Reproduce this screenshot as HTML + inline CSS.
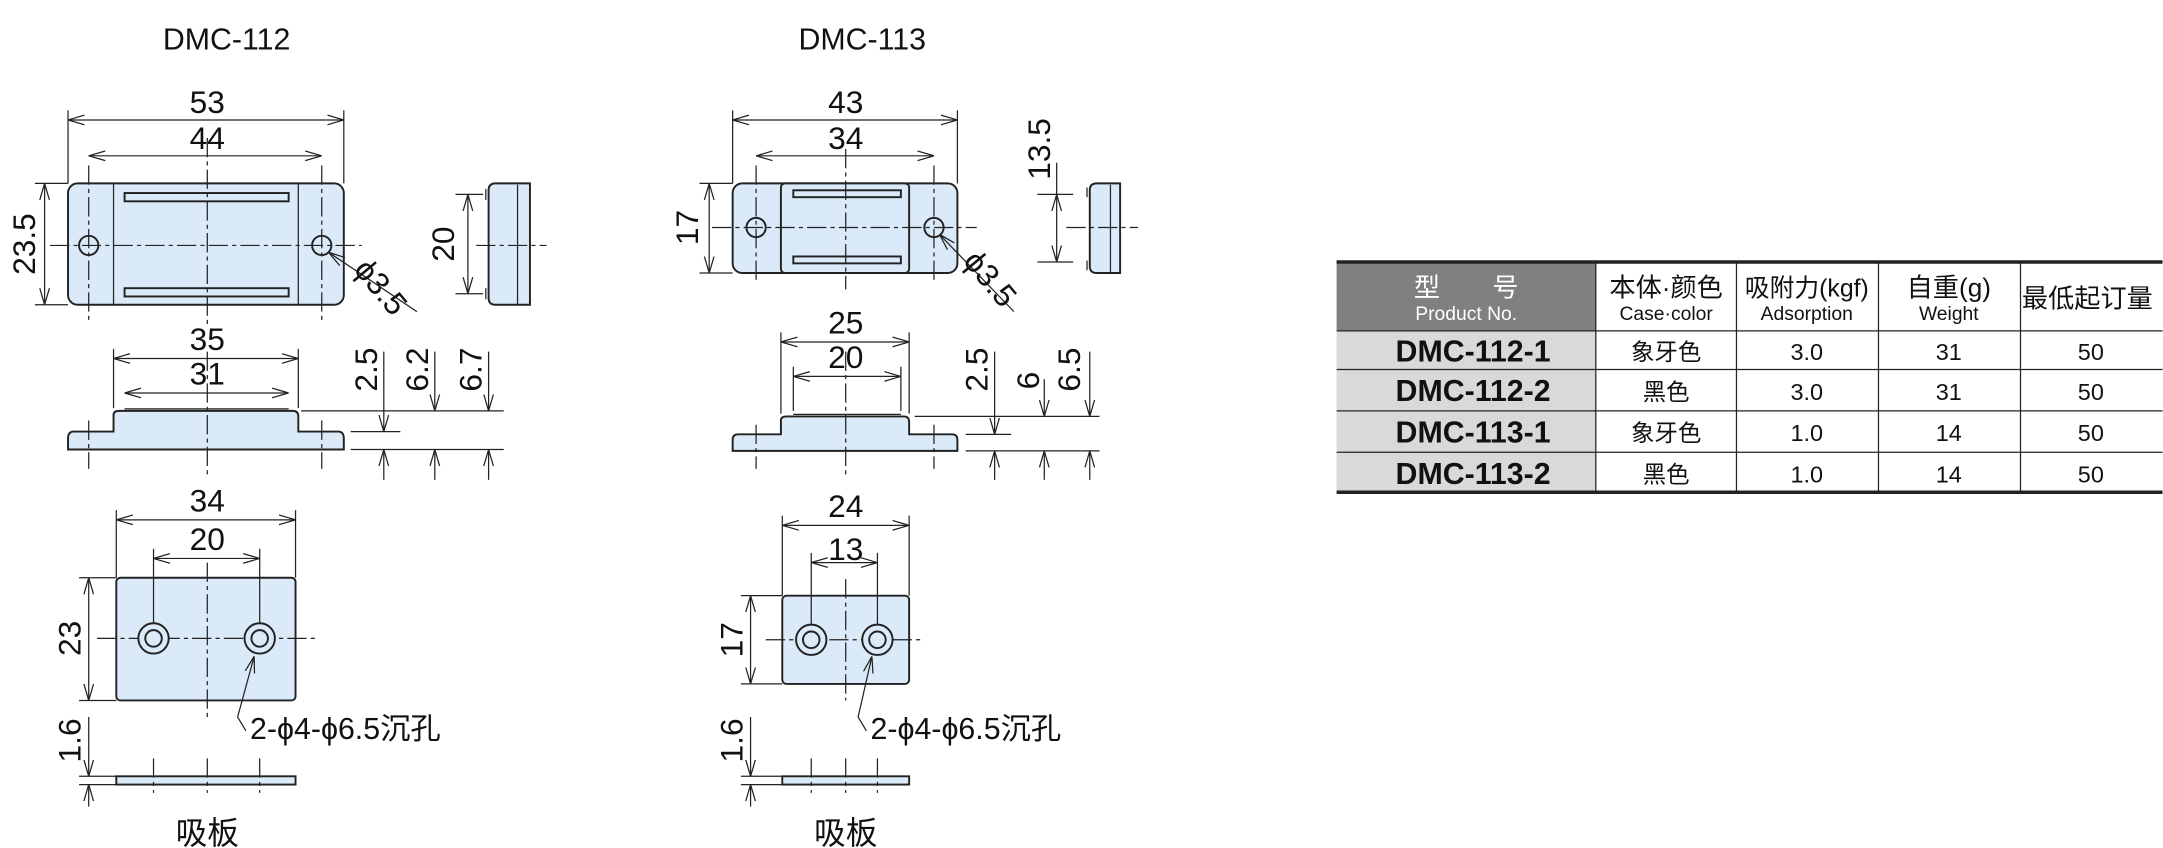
<!DOCTYPE html>
<html><head><meta charset="utf-8"><style>
html,body{margin:0;padding:0;background:#fff;}
svg{display:block;}
text{font-family:"Liberation Sans","Noto Sans CJK SC",sans-serif;fill:#111;}
.o{fill:#dbeaf8;stroke:#222;stroke-width:1.4;}
.l{stroke:#222;stroke-width:0.9;fill:none;}
.c{stroke:#222;stroke-width:0.9;fill:none;stroke-dasharray:14 3 3 3;}
.d{stroke:#222;stroke-width:0.9;fill:none;marker-start:url(#a);marker-end:url(#a);}
.d1{stroke:#222;stroke-width:0.9;fill:none;marker-end:url(#a);}
.n{font-size:23px;text-anchor:middle;}
</style></head><body>
<svg width="2163" height="848" viewBox="0 0 1568 615" xmlns="http://www.w3.org/2000/svg">
<defs><marker id="a" viewBox="0 0 12 8" refX="12" refY="4" markerWidth="12" markerHeight="8" markerUnits="userSpaceOnUse" orient="auto-start-reverse"><path d="M0,0.5 L12,4 L0,7.5" fill="none" stroke="#222" stroke-width="0.9"/></marker></defs>

<!-- ===== DMC-112 ===== -->
<text x="164" y="36" font-size="22" text-anchor="middle">DMC-112</text>
<rect class="o" x="49" y="133" width="200" height="88" rx="7"/>
<line class="l" x1="82" y1="133" x2="82" y2="221"/><line class="l" x1="216" y1="133" x2="216" y2="221"/>
<rect class="o" x="90" y="140" width="119" height="6" stroke-width="1"/>
<rect class="o" x="90" y="209" width="119" height="6" stroke-width="1"/>
<circle class="o" cx="64" cy="178" r="7"/><circle class="o" cx="233" cy="178" r="7"/>
<line class="c" x1="36" y1="178" x2="262" y2="178"/>
<line class="c" x1="150" y1="100" x2="150" y2="237"/>
<line class="c" x1="64" y1="120" x2="64" y2="232"/><line class="c" x1="233" y1="120" x2="233" y2="232"/>
<line class="l" x1="49" y1="80" x2="49" y2="133"/><line class="l" x1="249" y1="80" x2="249" y2="133"/>
<line class="d" x1="49" y1="87" x2="249" y2="87"/><text class="n" x="150" y="82">53</text>
<line class="d" x1="64" y1="113" x2="233" y2="113"/><text class="n" x="150" y="108">44</text>
<line class="l" x1="25" y1="133" x2="49" y2="133"/><line class="l" x1="25" y1="221" x2="49" y2="221"/>
<line class="d" x1="32" y1="133" x2="32" y2="221"/><text class="n" transform="rotate(-90 17 177)" x="17" y="185">23.5</text>
<line class="l" x1="238" y1="183" x2="302" y2="226" style="marker-start:url(#a)"/>
<text class="n" transform="rotate(50 276 208)" x="276" y="216">ϕ3.5</text>
<path class="o" d="M359,133 H384 V221 H359 Q354,221 354,216 V138 Q354,133 359,133 Z"/>
<line class="l" x1="375" y1="134" x2="375" y2="221"/>
<line class="l" x1="352" y1="137" x2="352" y2="145"/><line class="l" x1="352" y1="209" x2="352" y2="217"/>
<line class="c" x1="345" y1="178" x2="396" y2="178"/>
<line class="l" x1="330" y1="141" x2="350" y2="141"/><line class="l" x1="330" y1="213" x2="350" y2="213"/>
<line class="d" x1="339" y1="141" x2="339" y2="213"/><text class="n" transform="rotate(-90 321 177)" x="321" y="185">20</text>
<path class="o" d="M53,313 H82 V301 Q82,298 86,298 H212 Q216,298 216,302 V313 H245 Q249,313 249,318 V326 H49 V318 Q49,313 53,313 Z"/>
<line class="l" x1="90" y1="296.5" x2="209" y2="296.5" stroke-width="1.4"/>
<line class="c" x1="150" y1="255" x2="150" y2="345"/>
<line class="c" x1="64" y1="305" x2="64" y2="340"/><line class="c" x1="233" y1="305" x2="233" y2="340"/>
<line class="l" x1="82" y1="253" x2="82" y2="296"/><line class="l" x1="216" y1="253" x2="216" y2="296"/>
<line class="d" x1="82" y1="260" x2="216" y2="260"/><text class="n" x="150" y="254">35</text>
<line class="d" x1="90" y1="285" x2="209" y2="285"/><text class="n" x="150" y="279">31</text>
<line class="l" x1="218" y1="298" x2="365" y2="298"/>
<line class="l" x1="254" y1="313" x2="290" y2="313"/>
<line class="l" x1="254" y1="326" x2="365" y2="326"/>
<line class="d1" x1="278" y1="255" x2="278" y2="313"/><line class="d1" x1="278" y1="348" x2="278" y2="326"/>
<line class="d1" x1="315" y1="255" x2="315" y2="298"/><line class="d1" x1="315" y1="348" x2="315" y2="326"/>
<line class="d1" x1="354" y1="255" x2="354" y2="298"/><line class="d1" x1="354" y1="348" x2="354" y2="326"/>
<text class="n" transform="rotate(-90 265 268)" x="265" y="276">2.5</text>
<text class="n" transform="rotate(-90 302 268)" x="302" y="276">6.2</text>
<text class="n" transform="rotate(-90 341 268)" x="341" y="276">6.7</text>
<rect class="o" x="84" y="419" width="130" height="89" rx="3"/>
<line class="c" x1="70" y1="463" x2="228" y2="463"/><line class="c" x1="150" y1="408" x2="150" y2="520"/>
<circle class="o" cx="111" cy="463" r="11"/><circle class="o" cx="111" cy="463" r="6"/>
<circle class="o" cx="188" cy="463" r="11"/><circle class="o" cx="188" cy="463" r="6"/>
<line class="l" x1="84" y1="370" x2="84" y2="419"/><line class="l" x1="214" y1="370" x2="214" y2="419"/>
<line class="d" x1="84" y1="377" x2="214" y2="377"/><text class="n" x="150" y="371">34</text>
<line class="l" x1="111" y1="398" x2="111" y2="452"/><line class="l" x1="188" y1="398" x2="188" y2="452"/>
<line class="d" x1="111" y1="405" x2="188" y2="405"/><text class="n" x="150" y="399">20</text>
<line class="l" x1="57" y1="419" x2="84" y2="419"/><line class="l" x1="57" y1="508" x2="84" y2="508"/>
<line class="d" x1="64" y1="419" x2="64" y2="508"/><text class="n" transform="rotate(-90 50 463)" x="50" y="471">23</text>
<polyline class="l" points="178,530 172,520 184,476" style="marker-end:url(#a)"/>
<text x="181" y="536" font-size="22">2-ϕ4-ϕ6.5沉孔</text>
<rect class="o" x="84" y="563" width="130" height="6" stroke-width="1"/>
<line class="c" x1="111" y1="550" x2="111" y2="575"/><line class="c" x1="150" y1="550" x2="150" y2="575"/><line class="c" x1="188" y1="550" x2="188" y2="575"/>
<line class="l" x1="57" y1="563" x2="84" y2="563"/><line class="l" x1="57" y1="569" x2="84" y2="569"/>
<line class="d1" x1="64" y1="520" x2="64" y2="563"/><line class="d1" x1="64" y1="585" x2="64" y2="569"/>
<text class="n" transform="rotate(-90 50 537)" x="50" y="545">1.6</text>
<text class="n" x="150" y="612" font-size="22">吸板</text>

<!-- ===== DMC-113 ===== -->
<text x="625" y="36" font-size="22" text-anchor="middle">DMC-113</text>
<rect class="o" x="531" y="133" width="163" height="65" rx="7"/>
<rect class="o" x="566" y="133" width="93" height="65" rx="3"/>
<rect class="o" x="575" y="138" width="78" height="5" stroke-width="1"/>
<rect class="o" x="575" y="186" width="78" height="5" stroke-width="1"/>
<circle class="o" cx="548" cy="165" r="7"/><circle class="o" cx="677" cy="165" r="7"/>
<line class="c" x1="516" y1="165" x2="708" y2="165"/>
<line class="c" x1="613" y1="108" x2="613" y2="210"/>
<line class="c" x1="548" y1="120" x2="548" y2="205"/><line class="c" x1="677" y1="120" x2="677" y2="205"/>
<line class="l" x1="531" y1="80" x2="531" y2="133"/><line class="l" x1="694" y1="80" x2="694" y2="133"/>
<line class="d" x1="531" y1="87" x2="694" y2="87"/><text class="n" x="613" y="82">43</text>
<line class="d" x1="548" y1="113" x2="677" y2="113"/><text class="n" x="613" y="108">34</text>
<line class="l" x1="507" y1="133" x2="531" y2="133"/><line class="l" x1="507" y1="198" x2="531" y2="198"/>
<line class="d" x1="514" y1="133" x2="514" y2="198"/><text class="n" transform="rotate(-90 498 165)" x="498" y="173">17</text>
<line class="l" x1="681" y1="170" x2="735" y2="226" style="marker-start:url(#a)"/>
<text class="n" transform="rotate(50 718 202)" x="718" y="210">ϕ3.5</text>
<path class="o" d="M795,133 H812 V198 H795 Q790,198 790,193 V138 Q790,133 795,133 Z"/>
<line class="l" x1="805" y1="134" x2="805" y2="198"/>
<line class="l" x1="788" y1="136" x2="788" y2="143"/><line class="l" x1="788" y1="189" x2="788" y2="196"/>
<line class="c" x1="773" y1="165" x2="825" y2="165"/>
<line class="l" x1="752" y1="141" x2="778" y2="141"/><line class="l" x1="752" y1="190" x2="778" y2="190"/>
<line class="l" x1="766" y1="118" x2="766" y2="141"/>
<line class="d" x1="766" y1="141" x2="766" y2="190"/><text class="n" transform="rotate(-90 753 108)" x="753" y="116">13.5</text>
<path class="o" d="M535,315 H566 V305 Q566,302 570,302 H655 Q659,302 659,306 V315 H690 Q694,315 694,319 V327 H531 V319 Q531,315 535,315 Z"/>
<line class="l" x1="575" y1="300.5" x2="653" y2="300.5" stroke-width="1.4"/>
<line class="c" x1="613" y1="255" x2="613" y2="345"/>
<line class="c" x1="548" y1="308" x2="548" y2="340"/><line class="c" x1="677" y1="308" x2="677" y2="340"/>
<line class="l" x1="566" y1="241" x2="566" y2="300"/><line class="l" x1="659" y1="241" x2="659" y2="300"/>
<line class="d" x1="566" y1="248" x2="659" y2="248"/><text class="n" x="613" y="242">25</text>
<line class="l" x1="575" y1="266" x2="575" y2="298"/><line class="l" x1="653" y1="266" x2="653" y2="298"/>
<line class="d" x1="575" y1="273" x2="653" y2="273"/><text class="n" x="613" y="267">20</text>
<line class="l" x1="663" y1="302" x2="797" y2="302"/>
<line class="l" x1="700" y1="315" x2="733" y2="315"/>
<line class="l" x1="700" y1="327" x2="797" y2="327"/>
<line class="d1" x1="721" y1="255" x2="721" y2="315"/><line class="d1" x1="721" y1="348" x2="721" y2="327"/>
<line class="d1" x1="757" y1="275" x2="757" y2="302"/><line class="d1" x1="757" y1="348" x2="757" y2="327"/>
<line class="d1" x1="790" y1="255" x2="790" y2="302"/><line class="d1" x1="790" y1="348" x2="790" y2="327"/>
<text class="n" transform="rotate(-90 708 268)" x="708" y="276">2.5</text>
<text class="n" transform="rotate(-90 745 276)" x="745" y="284">6</text>
<text class="n" transform="rotate(-90 775 268)" x="775" y="276">6.5</text>
<rect class="o" x="567" y="432" width="92" height="64" rx="3"/>
<line class="c" x1="555" y1="464" x2="670" y2="464"/><line class="c" x1="613" y1="420" x2="613" y2="508"/>
<circle class="o" cx="588" cy="464" r="11"/><circle class="o" cx="588" cy="464" r="6"/>
<circle class="o" cx="636" cy="464" r="11"/><circle class="o" cx="636" cy="464" r="6"/>
<line class="l" x1="567" y1="374" x2="567" y2="432"/><line class="l" x1="659" y1="374" x2="659" y2="432"/>
<line class="d" x1="567" y1="381" x2="659" y2="381"/><text class="n" x="613" y="375">24</text>
<line class="l" x1="588" y1="401" x2="588" y2="453"/><line class="l" x1="636" y1="401" x2="636" y2="453"/>
<line class="d" x1="588" y1="408" x2="636" y2="408"/><text class="n" x="613" y="406">13</text>
<line class="l" x1="537" y1="432" x2="567" y2="432"/><line class="l" x1="537" y1="496" x2="567" y2="496"/>
<line class="d" x1="544" y1="432" x2="544" y2="496"/><text class="n" transform="rotate(-90 530 464)" x="530" y="472">17</text>
<polyline class="l" points="628,530 622,520 632,476" style="marker-end:url(#a)"/>
<text x="631" y="536" font-size="22">2-ϕ4-ϕ6.5沉孔</text>
<rect class="o" x="567" y="563" width="92" height="6" stroke-width="1"/>
<line class="c" x1="588" y1="550" x2="588" y2="575"/><line class="c" x1="613" y1="550" x2="613" y2="575"/><line class="c" x1="636" y1="550" x2="636" y2="575"/>
<line class="l" x1="537" y1="563" x2="567" y2="563"/><line class="l" x1="537" y1="569" x2="567" y2="569"/>
<line class="d1" x1="544" y1="520" x2="544" y2="563"/><line class="d1" x1="544" y1="585" x2="544" y2="569"/>
<text class="n" transform="rotate(-90 530 537)" x="530" y="545">1.6</text>
<text class="n" x="613" y="612" font-size="22">吸板</text>

<!-- ===== TABLE ===== -->
<rect x="969" y="190" width="188" height="50" fill="#808080"/>
<rect x="969" y="240" width="188" height="117" fill="#d9d9d9"/>
<g class="l" stroke-width="0.9">
<line x1="969" y1="240" x2="1568" y2="240"/><line x1="969" y1="268" x2="1568" y2="268"/>
<line x1="969" y1="298" x2="1568" y2="298"/><line x1="969" y1="328" x2="1568" y2="328"/>
<line x1="1157" y1="190" x2="1157" y2="357"/><line x1="1259" y1="190" x2="1259" y2="357"/>
<line x1="1362" y1="190" x2="1362" y2="357"/><line x1="1465" y1="190" x2="1465" y2="357"/>
</g>
<line x1="969" y1="190" x2="1568" y2="190" stroke="#222" stroke-width="2.5"/>
<line x1="969" y1="357" x2="1568" y2="357" stroke="#222" stroke-width="2.5"/>
<text x="1063" y="215" font-size="19" text-anchor="middle" style="fill:#fff">型　　号</text>
<text x="1063" y="232" font-size="14" text-anchor="middle" style="fill:#fff">Product No.</text>
<text x="1208" y="215" font-size="19" text-anchor="middle">本体·颜色</text>
<text x="1208" y="232" font-size="14" text-anchor="middle">Case·color</text>
<text x="1310" y="215" font-size="18" text-anchor="middle">吸附力(kgf)</text>
<text x="1310" y="232" font-size="14" text-anchor="middle">Adsorption</text>
<text x="1413" y="215" font-size="19" text-anchor="middle">自重(g)</text>
<text x="1413" y="232" font-size="14" text-anchor="middle">Weight</text>
<text x="1466" y="223" font-size="19">最低起订量</text>
<g font-size="22" font-weight="bold" text-anchor="middle">
<text x="1068" y="262">DMC-112-1</text><text x="1068" y="291">DMC-112-2</text>
<text x="1068" y="321">DMC-113-1</text><text x="1068" y="351">DMC-113-2</text></g>
<g font-size="17" text-anchor="middle">
<text x="1208" y="261">象牙色</text><text x="1208" y="290">黑色</text><text x="1208" y="320">象牙色</text><text x="1208" y="350">黑色</text>
<text x="1310" y="261">3.0</text><text x="1310" y="290">3.0</text><text x="1310" y="320">1.0</text><text x="1310" y="350">1.0</text>
<text x="1413" y="261">31</text><text x="1413" y="290">31</text><text x="1413" y="320">14</text><text x="1413" y="350">14</text>
<text x="1516" y="261">50</text><text x="1516" y="290">50</text><text x="1516" y="320">50</text><text x="1516" y="350">50</text></g>
</svg>
</body></html>
